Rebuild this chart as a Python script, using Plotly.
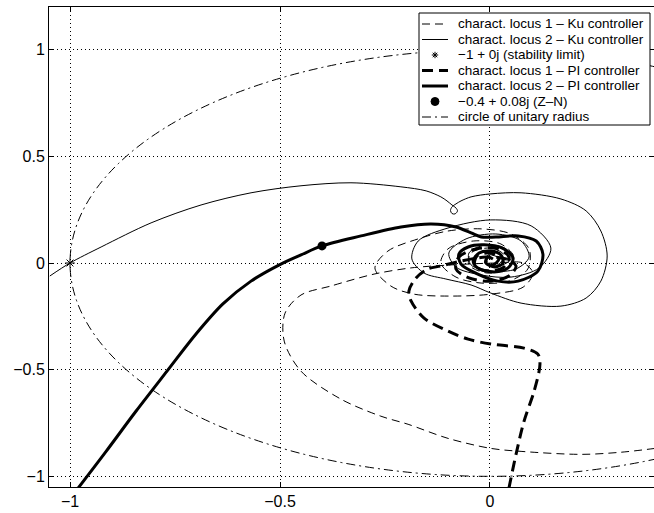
import plotly.graph_objects as go

# ---- data: real / imaginary parts of the loci ----

# Characteristic locus 2, Ku controller (thin solid)
ku2_re = [-1.048, -1.0, -0.926, -0.807, -0.688, -0.569, -0.45, -0.331, -0.212, -0.152, -0.117,
          -0.1024, -0.0905, -0.081, -0.0774, -0.0833, -0.0905, -0.094, -0.0905, -0.081, -0.069,
          -0.045, 0.002, 0.074, 0.169, 0.229, 0.264, 0.279, 0.264, 0.229, 0.169, 0.074, 0.002,
          -0.045, -0.105, -0.157, -0.186, -0.171, -0.1, 0.002, 0.098, 0.145, 0.117, 0.05, -0.021,
          -0.081, -0.098, -0.057, 0.014, 0.074, 0.093, 0.062, 0.002, -0.045, -0.05, -0.01, 0.038,
          0.05, 0.021, -0.012, -0.005, 0.019]
ku2_im = [-0.061, 0.0, 0.075, 0.188, 0.272, 0.329, 0.362, 0.376, 0.357, 0.338, 0.310,
          0.291, 0.272, 0.258, 0.244, 0.230, 0.232, 0.246, 0.263, 0.277, 0.291,
          0.310, 0.324, 0.329, 0.300, 0.244, 0.150, 0.033, -0.085, -0.164, -0.202, -0.188, -0.141,
          -0.103, -0.075, -0.047, 0.019, 0.103, 0.164, 0.202, 0.174, 0.070, -0.023, -0.066, -0.056,
          -0.019, 0.047, 0.113, 0.136, 0.103, 0.028, -0.028, -0.038, -0.009, 0.047, 0.085, 0.066,
          0.019, -0.014, 0.0, 0.038, 0.028]

# Characteristic locus 1, Ku controller (thin dashed)
ku1_re = [0.393, 0.312, 0.217, 0.074, 0.002, -0.1, -0.195, -0.26, -0.355, -0.45, -0.49, -0.488,
          -0.45, -0.379, -0.276, -0.188, -0.093, 0.014, 0.079, 0.102, 0.079, 0.002, -0.093, -0.181,
          -0.236, -0.274, -0.243, -0.171, -0.1, -0.021, 0.05, 0.093, 0.090, 0.045, -0.021, -0.081,
          -0.117, -0.1, -0.040, 0.026, 0.057, 0.038, -0.007, -0.05, -0.045, 0.002, 0.033, 0.021,
          -0.007, 0.0]
ku1_im = [-0.869, -0.887, -0.897, -0.883, -0.869, -0.822, -0.756, -0.718, -0.638, -0.507, -0.366, -0.235,
          -0.150, -0.108, -0.052, -0.023, -0.009, 0.0, 0.0, -0.047, -0.113, -0.146, -0.155, -0.146,
          -0.108, -0.023, 0.056, 0.113, 0.150, 0.160, 0.136, 0.066, -0.028, -0.085, -0.094, -0.066,
          0.0, 0.066, 0.103, 0.089, 0.028, -0.028, -0.047, -0.009, 0.047, 0.070, 0.038, -0.005,
          0.0, 0.033]

# Characteristic locus 1, PI controller (thick dashed)
pi1_re = [0.045, 0.062, 0.081, 0.105, 0.119, 0.114, 0.081, 0.002, -0.052, -0.1, -0.157, -0.188,
          -0.193, -0.176, -0.148, -0.117, -0.069, -0.01, 0.038, 0.062, 0.045, 0.002, -0.05, -0.081,
          -0.074, -0.033, 0.019, 0.045, 0.033, -0.002, -0.036, -0.031, 0.002, 0.021, 0.007, -0.012]
pi1_im = [-1.056, -0.897, -0.742, -0.601, -0.474, -0.427, -0.399, -0.380, -0.357, -0.319, -0.258, -0.178,
          -0.131, -0.070, -0.028, -0.014, 0.009, 0.028, 0.019, -0.014, -0.061, -0.085, -0.07, -0.028,
          0.028, 0.066, 0.066, 0.028, -0.019, -0.038, -0.014, 0.033, 0.047, 0.019, -0.009, 0.009]

# Characteristic locus 2, PI controller (thick solid)
pi2_re = [-0.981, -0.914, -0.843, -0.769, -0.700, -0.636, -0.569, -0.498, -0.45, -0.4, -0.307, -0.212,
          -0.14, -0.081, -0.045, -0.021, 0.014, 0.067, 0.110, 0.126, 0.114, 0.067, 0.019, -0.029,
          -0.069, -0.074, -0.052, -0.014, 0.033, 0.055, 0.043, 0.010, -0.029, -0.040, -0.026, 0.002,
          0.026, 0.031, 0.012, -0.010, -0.005, 0.007]
pi2_im = [-1.056, -0.883, -0.695, -0.507, -0.333, -0.192, -0.085, -0.005, 0.038, 0.08, 0.127, 0.169,
          0.183, 0.169, 0.141, 0.122, 0.122, 0.127, 0.103, 0.042, -0.038, -0.085, -0.085, -0.052,
          -0.005, 0.042, 0.075, 0.085, 0.066, 0.023, -0.023, -0.042, -0.023, 0.009, 0.047, 0.056,
          0.038, 0.0, -0.019, 0.0, 0.028, 0.019]

# Marked points
crit_re, crit_im = [-1.0], [0.0]
zn_re, zn_im = [-0.4], [0.08]
unit_radius = 1.0

labels = [
    "charact. locus 1 \u2013 Ku controller",
    "charact. locus 2 \u2013 Ku controller",
    "\u22121 + 0j (stability limit)",
    "charact. locus 1 \u2013 PI controller",
    "charact. locus 2 \u2013 PI controller",
    "\u22120.4 + 0.08j (Z\u2013N)",
    "circle of unitary radius",
]

x_ticks = [-1, -0.5, 0]
x_ticktext = ["\u22121", "\u22120.5", "0"]
y_ticks = [-1, -0.5, 0, 0.5, 1]
y_ticktext = ["\u22121", "\u22120.5", "0", "0.5", "1"]
x_range = [-1.05, 0.3905]
y_range = [-1.05, 1.2]

# ---- styles ----
FONT = "Liberation Sans, Arial, Helvetica, sans-serif"
thin_dash = "8px,5px"
thick_dash = "11px,6px"
dashdot = "9px,4px,2px,4px"

W, H = 654, 513
ML, MR, MT, MB = 49, 0, 7, 26
PW, PH = W - ML - MR, H - MT - MB


def px(xp):
    return (xp - ML) / PW


def py(yp):
    return (H - MB - yp) / PH


fig = go.Figure()
fig.add_trace(go.Scatter(x=ku1_re, y=ku1_im, mode="lines",
                         line=dict(color="black", width=1, dash=thin_dash, shape="spline", smoothing=0.9)))
fig.add_trace(go.Scatter(x=ku2_re, y=ku2_im, mode="lines",
                         line=dict(color="black", width=1, shape="spline", smoothing=0.9)))
fig.add_trace(go.Scatter(x=pi1_re, y=pi1_im, mode="lines",
                         line=dict(color="black", width=3, dash=thick_dash, shape="spline", smoothing=0.9)))
fig.add_trace(go.Scatter(x=pi2_re, y=pi2_im, mode="lines",
                         line=dict(color="black", width=3, shape="spline", smoothing=0.9)))
fig.add_trace(go.Scatter(x=crit_re, y=crit_im, mode="markers",
                         marker=dict(symbol="asterisk-open", size=8, color="black",
                                     line=dict(color="black", width=1))))
fig.add_trace(go.Scatter(x=zn_re, y=zn_im, mode="markers",
                         marker=dict(symbol="circle", size=9, color="black")))

shapes = []
# unit circle in data space
shapes.append(dict(type="circle", xref="x", yref="y",
                   x0=-unit_radius, y0=-unit_radius, x1=unit_radius, y1=unit_radius,
                   line=dict(color="black", width=1, dash=dashdot), layer="above"))

# ---- legend box ----
box_l, box_r, box_t, box_b = 419, 650, 13, 125
shapes.append(dict(type="rect", xref="paper", yref="paper",
                   x0=px(box_l), x1=px(box_r), y0=py(box_b), y1=py(box_t),
                   line=dict(color="black", width=1), fillcolor="white", layer="above"))

row_y = [24, 39.5, 55, 70.5, 86, 101.5, 117]
sx0, sx1, sxc, tx = 422, 448, 435, 457
line_styles = {0: (1, thin_dash), 1: (1, "solid"), 3: (3, thick_dash), 4: (3, "solid"), 6: (1, dashdot)}
for i, (w, d) in line_styles.items():
    shapes.append(dict(type="line", xref="paper", yref="paper",
                       x0=px(sx0), x1=px(sx1), y0=py(row_y[i]), y1=py(row_y[i]),
                       line=dict(color="black", width=w, dash=d), layer="above"))

# asterisk glyph for the stability-limit entry
r = 3.2
cx, cy = sxc, row_y[2]
star = ""
for dx, dy in [(r, 0), (0, r), (r * 0.7, r * 0.7), (r * 0.7, -r * 0.7)]:
    star += f"M{px(cx - dx)},{py(cy - dy)} L{px(cx + dx)},{py(cy + dy)} "
shapes.append(dict(type="path", xref="paper", yref="paper", path=star,
                   line=dict(color="black", width=1), layer="above"))

# filled dot for the Z-N entry
rd = 4
shapes.append(dict(type="circle", xref="paper", yref="paper",
                   x0=px(sxc - rd), x1=px(sxc + rd), y0=py(row_y[5] + rd), y1=py(row_y[5] - rd),
                   line=dict(color="black", width=1), fillcolor="black", layer="above"))

annotations = []
for i, lab in enumerate(labels):
    annotations.append(dict(x=px(tx), y=py(row_y[i]), xref="paper", yref="paper",
                            text=lab, showarrow=False, xanchor="left", yanchor="middle",
                            borderpad=0, font=dict(family=FONT, size=13.5, color="black")))

axis_common = dict(showline=True, linecolor="black", linewidth=1, mirror="ticks",
                   ticks="inside", ticklen=5, tickcolor="black", showgrid=True,
                   gridcolor="black", gridwidth=1, griddash="1px,3px", zeroline=False,
                   tickfont=dict(family=FONT, size=16, color="black"))

fig.update_xaxes(range=x_range, tickvals=x_ticks, ticktext=x_ticktext, **axis_common)
fig.update_yaxes(range=y_range, tickvals=y_ticks, ticktext=y_ticktext, **axis_common)

fig.update_layout(
    width=W, height=H,
    margin=dict(l=ML, r=MR, t=MT, b=MB),
    paper_bgcolor="white", plot_bgcolor="white",
    showlegend=False,
    shapes=shapes,
    annotations=annotations,
)

fig.write_html("out.html")
